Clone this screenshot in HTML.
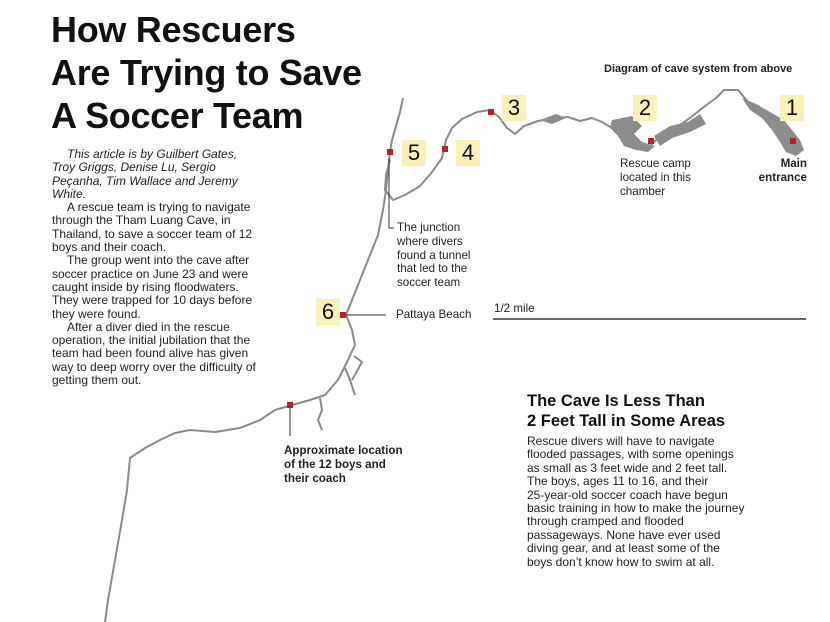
<!DOCTYPE html>
<html><head><meta charset="utf-8"><style>
body{margin:0;width:830px;height:622px;background:#fff;position:relative;overflow:hidden;font-family:"Liberation Sans",sans-serif;color:#222}
.a{position:absolute}
h1{position:absolute;left:51px;top:8px;margin:0;font-size:36px;line-height:43px;font-weight:bold;color:#111;letter-spacing:-0.3px}
.body{left:52px;top:148px;width:206px;font-size:12px;line-height:13.3px}
.body p{margin:0;text-indent:15px}
.s{font-size:11.6px;line-height:13.8px}
.n{position:absolute;background:#fbf0b8;font-size:22px;line-height:26px;width:24px;text-align:center;color:#111}
</style></head><body>
<h1>How Rescuers<br>Are Trying to Save<br>A Soccer Team</h1>
<div class="a body">
<p><i>This article is by Guilbert Gates, Troy Griggs, Denise Lu, Sergio Peçanha, Tim Wallace and Jeremy White.</i></p>
<p>A rescue team is trying to navigate through the Tham Luang Cave, in Thailand, to save a soccer team of 12 boys and their coach.</p>
<p>The group went into the cave after soccer practice on June 23 and were caught inside by rising floodwaters. They were trapped for 10 days before they were found.</p>
<p>After a diver died in the rescue operation, the initial jubilation that the team had been found alive has given way to deep worry over the difficulty of getting them out.</p>
</div>
<div class="a s" style="left:604px;top:63px;font-weight:bold;font-size:11px">Diagram of cave system from above</div>
<svg class="a" style="left:0;top:0" width="830" height="622">
<g fill="none" stroke="#8a8a8a" stroke-width="2" stroke-linejoin="round">
<path d="M403,98 L400,112 396,126 392,140 390,152 388,170 386,190 383,210 378,235 368,260 360,280 352,300 346,315 352,330 355,345 348,360 338,380 325,395 310,400 292,405 275,410 260,420 240,428 215,432 190,430 175,433 160,440 145,448 130,458 127,490 122,520 115,560 108,600 105,622"/>
<path d="M390,160 L386,175 385,190 393,200 405,195 420,186 432,172 442,158 446,140 452,128 462,119 477,112 490,110 499,117 507,128 515,134 524,126 538,121 555,118 568,117 580,121 592,118 602,122 612,128 626,134 640,142 650,146 660,136 676,128 690,118 705,106 716,98 724,90 738,90 748,102 762,110 776,118 786,132 792,148"/>
<path d="M354,356 L362,362 352,380 M345,368 L350,380 355,395 M320,398 L322,410 318,420 322,430"/>
</g>
<g fill="#8c8c8c">
<path d="M612,120 L632,116 642,126 634,134 642,142 655,146 648,152 636,150 624,146 618,136 610,128Z"/>
<path d="M654,136 L670,126 688,122 700,114 706,124 690,132 672,138 660,146Z"/>
<path d="M742,98 L756,104 770,112 784,120 792,130 800,140 804,150 796,156 786,152 780,142 772,130 762,118 750,110Z"/>
<path d="M540,120 L556,114 566,118 552,124Z"/>
</g>
<g fill="#b8232a">
<rect x="387" y="149" width="6" height="6"/><rect x="442" y="146" width="6" height="6"/><rect x="488" y="109" width="6" height="6"/>
<rect x="648" y="138" width="6" height="6"/><rect x="790" y="138" width="6" height="6"/>
<rect x="340" y="312" width="6" height="6"/><rect x="287" y="402" width="6" height="6"/>
</g>
<g stroke="#333" stroke-width="1" fill="none">
<path d="M389,158 V228 H394"/><path d="M346,315 H386"/><path d="M290,408 V436"/>
</g>
<path d="M493,319 H806" stroke="#333" stroke-width="1.5"/>
</svg>
<div class="n" style="left:402px;top:140px">5</div>
<div class="n" style="left:456px;top:140px">4</div>
<div class="n" style="left:502px;top:95px">3</div>
<div class="n" style="left:633px;top:95px">2</div>
<div class="n" style="left:780px;top:95px">1</div>
<div class="n" style="left:316px;top:299px">6</div>
<div class="a s" style="left:620px;top:157px">Rescue camp<br>located in this<br>chamber</div>
<div class="a s" style="left:740px;top:157px;width:67px;text-align:right;font-weight:bold">Main<br>entrance</div>
<div class="a s" style="left:397px;top:221px">The junction<br>where divers<br>found a tunnel<br>that led to the<br>soccer team</div>
<div class="a s" style="left:396px;top:308px">Pattaya Beach</div>
<div class="a s" style="left:494px;top:302px">1/2 mile</div>
<div class="a s" style="left:284px;top:444px;font-weight:bold">Approximate location<br>of the 12 boys and<br>their coach</div>
<div class="a" style="left:527px;top:391px;font-size:16.5px;line-height:20px;font-weight:bold;color:#111">The Cave Is Less Than<br>2 Feet Tall in Some Areas</div>
<div class="a" style="left:527px;top:435px;width:218px;font-size:12px;line-height:13.4px">Rescue divers will have to navigate flooded passages, with some openings as small as 3 feet wide and 2 feet tall. The boys, ages 11 to 16, and their 25&#8209;year&#8209;old soccer coach have begun basic training in how to make the journey through cramped and flooded passageways. None have ever used diving gear, and at least some of the boys don’t know how to swim at all.</div>
</body></html>
